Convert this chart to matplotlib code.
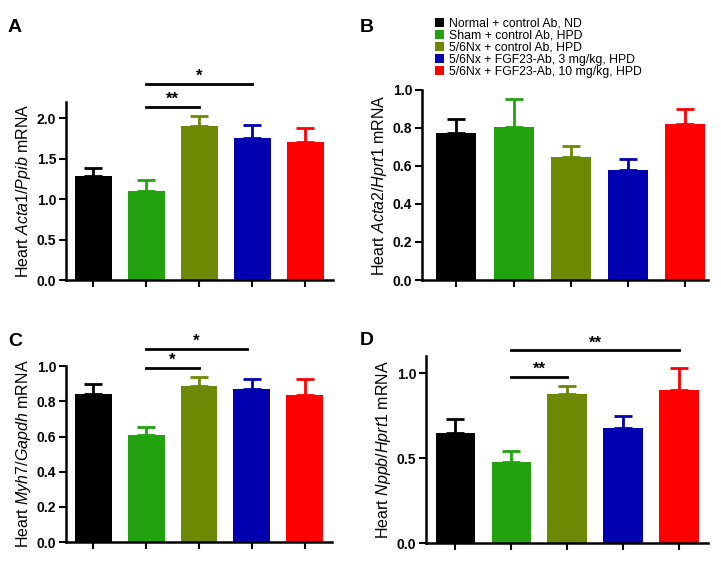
import matplotlib
matplotlib.use("Agg")
import matplotlib.pyplot as plt
from matplotlib.patches import Patch

plt.rcParams['font.family'] = ['Liberation Sans', 'DejaVu Sans']
plt.rcParams['mathtext.fontset'] = 'custom'
plt.rcParams['mathtext.rm'] = 'Liberation Sans'
plt.rcParams['mathtext.it'] = 'Liberation Sans:italic'

groups = ["Normal + control Ab, ND",
          "Sham + control Ab, HPD",
          "5/6Nx + control Ab, HPD",
          "5/6Nx + FGF23-Ab, 3 mg/kg, HPD",
          "5/6Nx + FGF23-Ab, 10 mg/kg, HPD"]
colors = ["#000000", "#22a20f", "#6d8904", "#0000b0", "#ff0000"]

# panel A: Acta1/Ppib
acta1_mean = [1.28, 1.10, 1.90, 1.75, 1.70]
acta1_sem = [0.11, 0.14, 0.13, 0.17, 0.18]
# panel B: Acta2/Hprt1
acta2_mean = [0.775, 0.805, 0.645, 0.58, 0.82]
acta2_sem = [0.07, 0.145, 0.06, 0.055, 0.08]
# panel C: Myh7/Gapdh
myh7_mean = [0.84, 0.61, 0.885, 0.87, 0.835]
myh7_sem = [0.06, 0.045, 0.055, 0.055, 0.095]
# panel D: Nppb/Hprt1
nppb_mean = [0.65, 0.475, 0.875, 0.675, 0.90]
nppb_sem = [0.08, 0.065, 0.05, 0.075, 0.13]

# significance lines: (from group, to group, height, label)
sig_a = [(1, 2, 2.14, "**"), (1, 3, 2.42, "*")]
sig_c = [(1, 2, 0.99, "*"), (1, 2.9, 1.10, "*")]
sig_d = [(1, 2, 0.98, "**"), (1, 4, 1.135, "**")]


def panel(ax, means, sems, ylim, yticks, ylabel, sigs, xlim=(-0.52, 4.52)):
    x = list(range(len(means)))
    ax.bar(x, means, width=0.7, color=colors, zorder=2)
    for xi, m, s, c in zip(x, means, sems, colors):
        ax.errorbar(xi, m, yerr=[[0], [s]], color=c, capsize=6.5, capthick=2,
                    elinewidth=2, zorder=3)
    ax.set_xlim(*xlim)
    ax.set_ylim(*ylim)
    ax.set_yticks(yticks)
    ax.set_yticklabels([f"{t:.1f}" for t in yticks], fontweight='bold', fontsize=10)
    ax.set_xticks(x)
    ax.set_xticklabels([])
    ax.tick_params(width=1.5, length=5, pad=2)
    for sp in ["top", "right"]:
        ax.spines[sp].set_visible(False)
    for sp in ["left", "bottom"]:
        ax.spines[sp].set_linewidth(1.8)
    ax.set_ylabel(ylabel, fontsize=11.5, labelpad=3)
    for a, b, y, lab in sigs:
        ax.plot([a, b], [y, y], color='black', lw=2, clip_on=False)
        ax.text((a + b) / 2, y, lab, ha='center', va='bottom', fontsize=12,
                fontweight='bold', clip_on=False)


fig = plt.figure(figsize=(7.21, 5.66), dpi=100)
axA = fig.add_axes([0.0915, 0.5053, 0.370, 0.3145])
axB = fig.add_axes([0.5853, 0.5053, 0.397, 0.336])
axC = fig.add_axes([0.0915, 0.0424, 0.369, 0.3106])
axD = fig.add_axes([0.591, 0.0406, 0.391, 0.330])

panel(axA, acta1_mean, acta1_sem, (0, 2.2), [0.0, 0.5, 1.0, 1.5, 2.0],
      r"Heart $\mathit{Acta1/Ppib}$ mRNA", sig_a)
panel(axB, acta2_mean, acta2_sem, (0, 1.0), [0.0, 0.2, 0.4, 0.6, 0.8, 1.0],
      r"Heart $\mathit{Acta2/Hprt1}$ mRNA", [], xlim=(-0.6, 4.4))
panel(axC, myh7_mean, myh7_sem, (0, 1.0), [0.0, 0.2, 0.4, 0.6, 0.8, 1.0],
      r"Heart $\mathit{Myh7/Gapdh}$ mRNA", sig_c)
panel(axD, nppb_mean, nppb_sem, (0, 1.1), [0.0, 0.5, 1.0],
      r"Heart $\mathit{Nppb/Hprt1}$ mRNA", sig_d)

handles = [Patch(facecolor=c, edgecolor='none') for c in colors]
fig.legend(handles, groups, loc='upper left', bbox_to_anchor=(0.597, 0.977),
           frameon=False, fontsize=8.8, handlelength=0.75, handleheight=0.75,
           handletextpad=0.35, labelspacing=0.0, borderaxespad=0)

for lab, x, y in [("A", 0.011, 0.952), ("B", 0.499, 0.952), ("C", 0.011, 0.396), ("D", 0.499, 0.399)]:
    fig.text(x, y, lab, fontsize=14, fontweight='bold', va='center')

fig.savefig("out.png", dpi=100)
